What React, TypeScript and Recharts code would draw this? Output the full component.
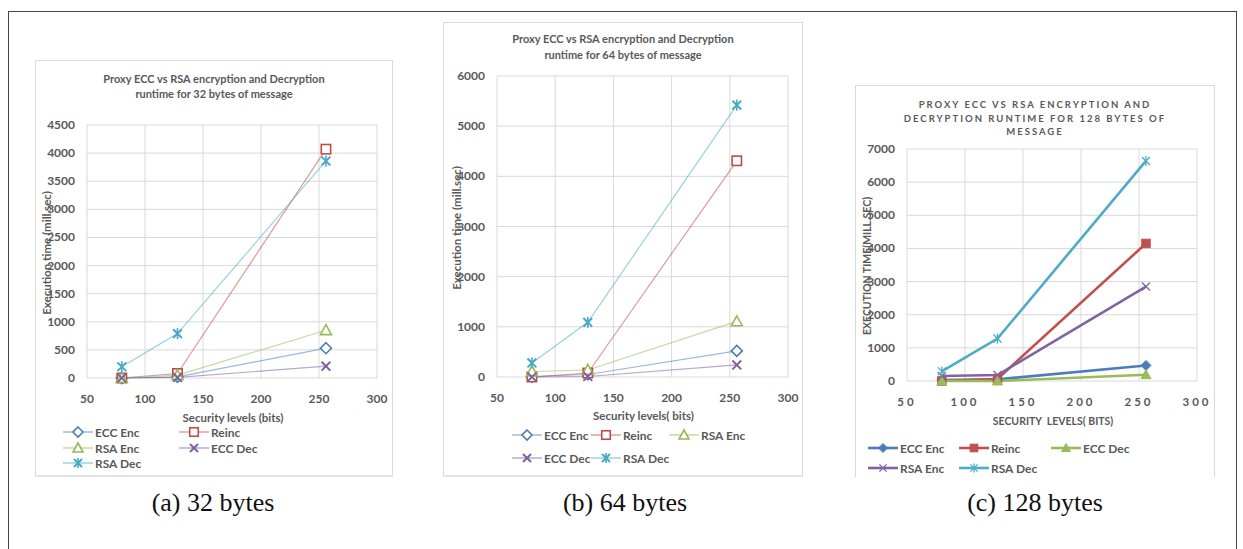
import React from "react";
import { LineChart, Line, XAxis, YAxis, CartesianGrid } from "recharts";

// security levels (bits) shared by all three panels
const levels = [80, 128, 256];
const xTicks = [50, 100, 150, 200, 250, 300];

// (a) 32 bytes
const ecc32Enc = [0, 20, 530];
const reinc32 = [0, 80, 4070];
const rsa32Enc = [0, 50, 850];
const ecc32Dec = [0, 10, 210];
const rsa32Dec = [200, 790, 3860];
const yTicks32 = [0, 500, 1000, 1500, 2000, 2500, 3000, 3500, 4000, 4500];

// (b) 64 bytes
const ecc64Enc = [10, 50, 520];
const reinc64 = [0, 80, 4310];
const rsa64Enc = [110, 140, 1110];
const ecc64Dec = [0, 10, 240];
const rsa64Dec = [280, 1090, 5420];
const yTicks64 = [0, 1000, 2000, 3000, 4000, 5000, 6000];

// (c) 128 bytes
const ecc128Enc = [30, 50, 470];
const reinc128 = [0, 60, 4150];
const ecc128Dec = [0, 0, 190];
const rsa128Enc = [150, 180, 2850];
const rsa128Dec = [290, 1280, 6640];
const yTicks128 = [0, 1000, 2000, 3000, 4000, 5000, 6000, 7000];

type Shape = "diamond" | "square" | "triangle" | "x" | "star";

interface Series {
  name: string;
  values: number[];
  color: string;
  shape: Shape;
}

const BLUE = "#4a7ebb";
const RED = "#be4b48";
const GREEN = "#98b954";
const PURPLE = "#7d60a0";
const CYAN = "#46aac5";

const FONT = "Lato, 'Open Sans', sans-serif";
const GREY = "#595959";

function MarkerShape({ shape, cx, cy, color, filled, r }: { shape: Shape; cx: number; cy: number; color: string; filled: boolean; r: number }) {
  const fill = filled ? color : "#fff";
  const sw = filled ? 1 : 1.6;
  if (shape === "diamond") {
    return <polygon points={`${cx},${cy - r} ${cx + r},${cy} ${cx},${cy + r} ${cx - r},${cy}`} fill={fill} stroke={color} strokeWidth={sw} />;
  }
  if (shape === "square") {
    const s = r * 0.85;
    return <rect x={cx - s} y={cy - s} width={s * 2} height={s * 2} fill={fill} stroke={color} strokeWidth={sw} />;
  }
  if (shape === "triangle") {
    return <polygon points={`${cx},${cy - r} ${cx + r},${cy + r * 0.8} ${cx - r},${cy + r * 0.8}`} fill={fill} stroke={color} strokeWidth={sw} />;
  }
  const s = r * 0.8;
  return (
    <g stroke={color} strokeWidth={filled ? 1.3 : 2}>
      <line x1={cx - s} y1={cy - s} x2={cx + s} y2={cy + s} />
      <line x1={cx - s} y1={cy + s} x2={cx + s} y2={cy - s} />
      {shape === "star" && <line x1={cx} y1={cy - r} x2={cx} y2={cy + r} strokeWidth={filled ? 1.3 : 1.6} />}
    </g>
  );
}

function makeTick(anchor: "middle" | "end", spacing: number, size: number, dy: number) {
  return (p: any) => (
    <text
      x={p.x}
      y={p.y}
      dy={dy}
      textAnchor={anchor}
      fill={GREY}
      fontSize={size}
      fontWeight={700}
      fontFamily={FONT}
      letterSpacing={spacing}
    >
      {p.payload.value}
    </text>
  );
}

interface LegendPos {
  name: string;
  x: number;
  y: number;
}

interface PanelCfg {
  left: number;
  top: number;
  width: number;
  height: number;
  border: boolean;
  title: string[];
  titleTop: number;
  titleLine: number;
  titleStyle: React.CSSProperties;
  yLabel: string;
  yLabelX: number;
  xLabel: string;
  xLabelY: number;
  labelStyle: React.CSSProperties;
  series: Series[];
  yTicks: number[];
  margin: { top: number; right: number; bottom: number };
  yAxisWidth: number;
  bold: boolean;
  legend: LegendPos[];
  xTickSpacing: number;
}

function Panel({ cfg }: { cfg: PanelCfg }) {
  const rows = levels.map((lv, i) => {
    const row: any = { level: lv };
    cfg.series.forEach((s) => (row[s.name] = s.values[i]));
    return row;
  });
  const plotTop = cfg.margin.top;
  const plotBottom = cfg.height - cfg.margin.bottom - 20;
  const plotLeft = cfg.yAxisWidth;
  const plotRight = cfg.width - cfg.margin.right;
  return (
    <div
      style={{
        position: "absolute",
        left: cfg.left,
        top: cfg.top,
        width: cfg.width,
        height: cfg.height,
        borderLeft: "1px solid #d9d9d9",
        borderRight: "1px solid #d9d9d9",
        borderTop: "1px solid #d9d9d9",
        borderBottom: cfg.border ? "2px solid #e3e3e3" : "none",
        boxSizing: "border-box",
        background: "#fff",
      }}
    >
      <LineChart
        width={cfg.width}
        height={cfg.height}
        data={rows}
        margin={{ top: cfg.margin.top, right: cfg.margin.right, bottom: cfg.margin.bottom, left: 0 }}
        style={{ position: "absolute", left: -1, top: -1 }}
      >
        <CartesianGrid stroke="#d9d9d9" strokeWidth={1} />
        <XAxis
          dataKey="level"
          type="number"
          domain={[50, 300]}
          ticks={xTicks}
          height={20}
          axisLine={false}
          tickLine={false}
          interval={0}
          tick={makeTick("middle", cfg.xTickSpacing, cfg.bold ? 11.5 : 12, 17)}
        />
        <YAxis
          type="number"
          domain={[0, cfg.yTicks[cfg.yTicks.length - 1]]}
          ticks={cfg.yTicks}
          width={cfg.yAxisWidth}
          axisLine={false}
          tickLine={false}
          interval={0}
          tick={(p: any) => makeTick("end", 0, 12, 4)({ ...p, x: p.x + 8 - 12 })}
        />
        {cfg.series.map((s) => (
          <Line
            key={s.name}
            type="linear"
            dataKey={s.name}
            stroke={s.color}
            strokeOpacity={cfg.bold ? 1 : 0.55}
            strokeWidth={cfg.bold ? 2.6 : 1.2}
            isAnimationActive={false}
            activeDot={false}
            dot={(p: any) => (
              <MarkerShape key={`${s.name}-${p.index}`} shape={s.shape} cx={p.cx} cy={p.cy} color={s.color} filled={cfg.bold} r={cfg.bold ? 5 : 5.5} />
            )}
          />
        ))}
      </LineChart>
      {cfg.title.map((t, i) => (
        <div
          key={t}
          style={{
            position: "absolute",
            left: 0,
            width: "100%",
            top: cfg.titleTop + i * cfg.titleLine,
            height: cfg.titleLine,
            lineHeight: `${cfg.titleLine}px`,
            textAlign: "center",
            whiteSpace: "nowrap",
            ...cfg.titleStyle,
          }}
        >
          {t}
        </div>
      ))}
      <div
        style={{
          position: "absolute",
          left: cfg.yLabelX,
          top: (plotTop + plotBottom) / 2,
          transform: "translate(-50%, -50%) rotate(-90deg)",
          whiteSpace: "nowrap",
          ...cfg.labelStyle,
        }}
      >
        {cfg.yLabel}
      </div>
      <div
        style={{
          position: "absolute",
          left: (plotLeft + plotRight) / 2,
          top: cfg.xLabelY,
          transform: "translate(-50%, -50%)",
          whiteSpace: "pre",
          ...cfg.labelStyle,
        }}
      >
        {cfg.xLabel}
      </div>
      {cfg.legend.map((l) => {
        const s = cfg.series.find((q) => q.name === l.name)!;
        return (
          <div
            key={l.name}
            style={{ position: "absolute", left: l.x - 15, top: l.y - 8, height: 16, display: "flex", alignItems: "center", whiteSpace: "nowrap" }}
          >
            <svg width={30} height={16} style={{ overflow: "visible" }}>
              <line x1={0} y1={8} x2={30} y2={8} stroke={s.color} strokeOpacity={cfg.bold ? 1 : 0.6} strokeWidth={cfg.bold ? 2.6 : 1.3} />
              <MarkerShape shape={s.shape} cx={15} cy={8} color={s.color} filled={cfg.bold} r={cfg.bold ? 4.5 : 5} />
            </svg>
            <span style={{ marginLeft: 2, fontFamily: FONT, fontSize: 12, fontWeight: 700, color: GREY }}>{l.name}</span>
          </div>
        );
      })}
    </div>
  );
}

const thinTitle: React.CSSProperties = { fontFamily: FONT, fontSize: 11, fontWeight: 700, color: GREY };
const thinLabel: React.CSSProperties = { fontFamily: FONT, fontSize: 11.5, fontWeight: 700, color: GREY };

const panelA: PanelCfg = {
  left: 35,
  top: 60,
  width: 358,
  height: 417,
  border: true,
  title: ["Proxy ECC vs RSA encryption and Decryption", "runtime for 32 bytes of message"],
  titleTop: 10,
  titleLine: 15,
  titleStyle: thinTitle,
  yLabel: "Execution time (mill.sec)",
  yLabelX: 10,
  xLabel: "Security levels (bits)",
  xLabelY: 356,
  labelStyle: thinLabel,
  series: [
    { name: "ECC Enc", values: ecc32Enc, color: BLUE, shape: "diamond" },
    { name: "Reinc", values: reinc32, color: RED, shape: "square" },
    { name: "RSA Enc", values: rsa32Enc, color: GREEN, shape: "triangle" },
    { name: "ECC Dec", values: ecc32Dec, color: PURPLE, shape: "x" },
    { name: "RSA Dec", values: rsa32Dec, color: CYAN, shape: "star" },
  ],
  yTicks: yTicks32,
  margin: { top: 65, right: 16, bottom: 79 },
  yAxisWidth: 52,
  bold: false,
  legend: [
    { name: "ECC Enc", x: 42, y: 371 },
    { name: "Reinc", x: 158, y: 371 },
    { name: "RSA Enc", x: 42, y: 387 },
    { name: "ECC Dec", x: 158, y: 387 },
    { name: "RSA Dec", x: 42, y: 402 },
  ],
  xTickSpacing: 0,
};

const panelB: PanelCfg = {
  left: 443,
  top: 22,
  width: 360,
  height: 455,
  border: true,
  title: ["Proxy ECC vs RSA encryption and Decryption", "runtime for 64 bytes of message"],
  titleTop: 8,
  titleLine: 16,
  titleStyle: thinTitle,
  yLabel: "Execution time (mill.sec)",
  yLabelX: 12,
  xLabel: "Security levels( bits)",
  xLabelY: 392,
  labelStyle: thinLabel,
  series: [
    { name: "ECC Enc", values: ecc64Enc, color: BLUE, shape: "diamond" },
    { name: "Reinc", values: reinc64, color: RED, shape: "square" },
    { name: "RSA Enc", values: rsa64Enc, color: GREEN, shape: "triangle" },
    { name: "ECC Dec", values: ecc64Dec, color: PURPLE, shape: "x" },
    { name: "RSA Dec", values: rsa64Dec, color: CYAN, shape: "star" },
  ],
  yTicks: yTicks64,
  margin: { top: 54, right: 15, bottom: 80 },
  yAxisWidth: 54,
  bold: false,
  legend: [
    { name: "ECC Enc", x: 83, y: 412 },
    { name: "Reinc", x: 162, y: 412 },
    { name: "RSA Enc", x: 240, y: 412 },
    { name: "ECC Dec", x: 83, y: 435 },
    { name: "RSA Dec", x: 162, y: 435 },
  ],
  xTickSpacing: 0,
};

const panelC: PanelCfg = {
  left: 855,
  top: 85,
  width: 360,
  height: 392,
  border: false,
  title: ["PROXY ECC VS RSA ENCRYPTION AND", "DECRYPTION RUNTIME FOR 128 BYTES OF", "MESSAGE"],
  titleTop: 12,
  titleLine: 13.5,
  titleStyle: { fontFamily: FONT, fontSize: 9.5, fontWeight: 700, color: GREY, letterSpacing: 2 },
  yLabel: "EXECUTION TIME(MILL.SEC)",
  yLabelX: 11,
  xLabel: "SECURITY  LEVELS( BITS)",
  xLabelY: 335,
  labelStyle: { fontFamily: FONT, fontSize: 10.5, fontWeight: 700, color: GREY },
  series: [
    { name: "ECC Enc", values: ecc128Enc, color: "#4a7dbc", shape: "diamond" },
    { name: "Reinc", values: reinc128, color: "#c0504d", shape: "square" },
    { name: "ECC Dec", values: ecc128Dec, color: "#9bbb59", shape: "triangle" },
    { name: "RSA Enc", values: rsa128Enc, color: "#8064a2", shape: "x" },
    { name: "RSA Dec", values: rsa128Dec, color: "#4bacc6", shape: "star" },
  ],
  yTicks: yTicks128,
  margin: { top: 64, right: 18, bottom: 76 },
  yAxisWidth: 52,
  bold: true,
  legend: [
    { name: "ECC Enc", x: 27, y: 362 },
    { name: "Reinc", x: 118, y: 362 },
    { name: "ECC Dec", x: 210, y: 362 },
    { name: "RSA Enc", x: 27, y: 382 },
    { name: "RSA Dec", x: 118, y: 382 },
  ],
  xTickSpacing: 3,
};

const captions = [
  { text: "(a) 32 bytes", x: 213 },
  { text: "(b) 64 bytes", x: 625 },
  { text: "(c) 128 bytes", x: 1035 },
];

export default function App() {
  return (
    <div style={{ position: "fixed", left: 0, top: 0, width: 1243, height: 549, background: "#fff", overflow: "hidden" }}>
      <div style={{ position: "absolute", left: 8, top: 11, width: 1229, height: 620, border: "1.5px solid #444", boxSizing: "border-box" }} />
      <Panel cfg={panelA} />
      <Panel cfg={panelB} />
      <Panel cfg={panelC} />
      {captions.map((c) => (
        <div
          key={c.text}
          style={{
            position: "absolute",
            left: c.x,
            top: 503,
            transform: "translate(-50%, -50%)",
            fontFamily: "'Liberation Serif', serif",
            fontSize: 26,
            color: "#111",
            whiteSpace: "nowrap",
          }}
        >
          {c.text}
        </div>
      ))}
    </div>
  );
}
